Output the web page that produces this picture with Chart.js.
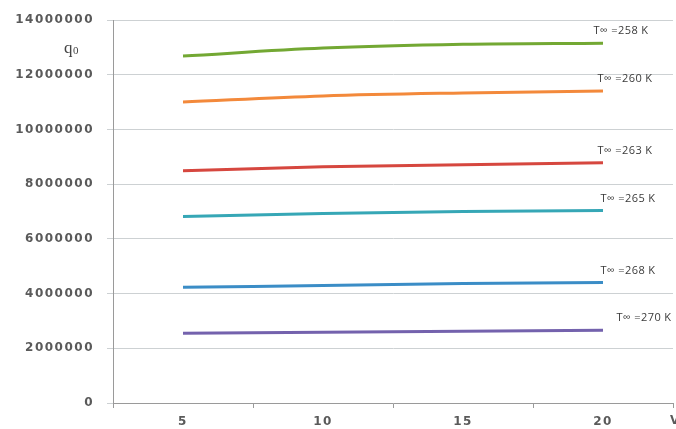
<!DOCTYPE html>
<html>
<head>
<meta charset="utf-8">
<script src="https://cdn.jsdelivr.net/npm/chart.js@4/dist/chart.umd.min.js"></script>
<style>
  html, body { margin: 0; padding: 0; background: #ffffff; }
  #wrap { width: 676px; height: 429px; position: relative; }
</style>
</head>
<body>
<div id="wrap"><canvas id="c" width="676" height="429"></canvas></div>
<script>
// ---- data ----
const categories = ["5", "10", "15", "20"];
const seriesNames = ["T\u221e =258 K", "T\u221e =260 K", "T\u221e =263 K", "T\u221e =265 K", "T\u221e =268 K", "T\u221e =270 K"];
const q258 = [12690000, 12980000, 13120000, 13160000];
const q260 = [11010000, 11230000, 11340000, 11410000];
const q263 = [8490000, 8640000, 8710000, 8790000];
const q265 = [6820000, 6930000, 7000000, 7040000];
const q268 = [4230000, 4300000, 4370000, 4410000];
const q270 = [2550000, 2590000, 2620000, 2660000];
const yTicks = [0, 2000000, 4000000, 6000000, 8000000, 10000000, 12000000, 14000000];

// ---- styles ----
const colors = ["#73a833", "#f3893b", "#d6473f", "#36a7b6", "#3b8dc6", "#7462ad"];
const labelDx = [18, 22, 22, 25, 25, 41];
const allSeries = [q258, q260, q263, q265, q268, q270];

const datasets = allSeries.map((d, i) => ({
  label: seriesNames[i],
  data: d,
  borderColor: colors[i],
  backgroundColor: colors[i],
  borderWidth: 3,
  pointRadius: 0,
  tension: 0.35,
  fill: false
}));

const spacing = {
  id: 'spacing',
  beforeDraw(chart) { chart.ctx.letterSpacing = '1.5px'; }
};

const annot = {
  id: 'annot',
  afterDatasetsDraw(chart) {
    const ctx = chart.ctx;
    ctx.save();
    ctx.letterSpacing = '0.4px';
    ctx.font = '11px "Open Sans", "Liberation Sans", sans-serif';
    ctx.fillStyle = '#3a3a3a';
    ctx.textAlign = 'center';
    ctx.textBaseline = 'middle';
    chart.data.datasets.forEach((ds, i) => {
      const meta = chart.getDatasetMeta(i);
      const p = meta.data[meta.data.length - 1];
      ctx.fillText(ds.label, p.x + labelDx[i], p.y - 12);
    });
    // q0 axis label
    ctx.letterSpacing = '0px';
    ctx.fillStyle = '#444444';
    ctx.textAlign = 'left';
    ctx.textBaseline = 'alphabetic';
    ctx.font = '17px "Liberation Serif", serif';
    ctx.fillText('q', 64, 53);
    ctx.font = '11px "Liberation Serif", serif';
    ctx.fillText('0', 73, 54);
    // V axis title (cut at edge)
    ctx.font = 'bold 12px "DejaVu Sans", sans-serif';
    ctx.fillStyle = '#5a5a5a';
    ctx.textBaseline = 'middle';
    ctx.fillText('V', 670, 421);
    ctx.restore();
  }
};

new Chart(document.getElementById('c'), {
  type: 'line',
  data: { labels: categories, datasets },
  options: {
    responsive: false,
    animation: false,
    devicePixelRatio: 1,
    layout: { padding: { left: 0, right: 3, top: 19, bottom: 0 } },
    plugins: { legend: { display: false }, tooltip: { enabled: false } },
    scales: {
      x: {
        type: 'category',
        offset: true,
        grid: { offset: true, drawOnChartArea: false, drawTicks: true, tickLength: 5, color: '#9a9a9a' },
        border: { color: '#9a9a9a', width: 1 },
        ticks: {
          color: '#5a5a5a',
          font: { family: '"DejaVu Sans", sans-serif', size: 12, weight: 'bold' },
          padding: 7,
          maxRotation: 0
        },
        afterFit(s) { s.height = 26; }
      },
      y: {
        min: 0,
        max: 14000000,
        afterBuildTicks(s) { s.ticks = yTicks.map(v => ({ value: v })); },
        grid: { color: '#cdd1d3', tickLength: 6, drawTicks: true },
        border: { color: '#9a9a9a', width: 1 },
        ticks: {
          color: '#5a5a5a',
          font: { family: '"DejaVu Sans", sans-serif', size: 12, weight: 'bold' },
          padding: 13,
          callback: v => String(v)
        },
        afterFit(s) { s.width = 113; }
      }
    }
  },
  plugins: [spacing, annot]
});
</script>
</body>
</html>
